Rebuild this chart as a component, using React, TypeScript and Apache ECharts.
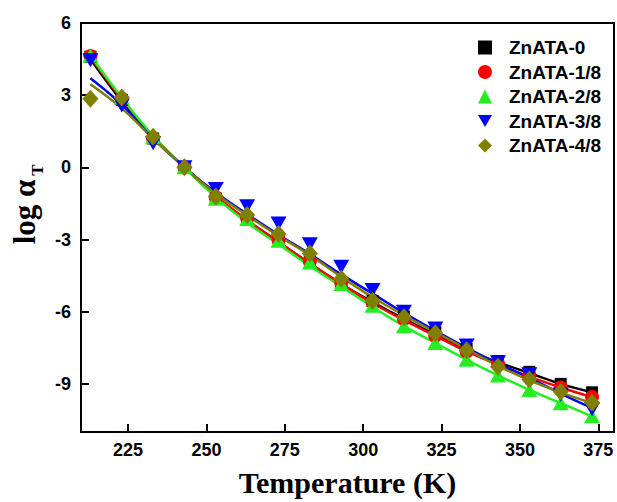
import React, { useEffect, useRef } from 'react';
import * as echarts from 'echarts';

// Temperatures (K)
const temps = [213, 223, 233, 243, 253, 263, 273, 283, 293, 303, 313, 323, 333, 343, 353, 363, 373];

const seriesNames = ['ZnATA-0', 'ZnATA-1/8', 'ZnATA-2/8', 'ZnATA-3/8', 'ZnATA-4/8'];

// Measured log aT (markers)
const data0 = [4.6, 2.8, 1.2, 0, -1.3, -2.15, -2.95, -3.85, -4.85, -5.55, -6.2, -6.85, -7.55, -8.05, -8.5, -9.0, -9.35];
const data1 = [4.63, 2.85, 1.2, 0, -1.25, -2.1, -3.0, -3.9, -4.8, -5.6, -6.3, -7.0, -7.65, -8.15, -8.65, -9.15, -9.55];
const data2 = [4.65, 2.9, 1.25, 0, -1.3, -2.15, -3.05, -3.95, -4.85, -5.75, -6.6, -7.3, -8.0, -8.65, -9.25, -9.8, -10.35];
const data3 = [4.45, 2.57, 1.0, 0, -0.9, -1.62, -2.33, -3.2, -4.13, -5.1, -6.0, -6.7, -7.4, -8.1, -8.6, -9.45, -10.05];
const data4 = [2.85, 2.9, 1.27, 0, -1.21, -1.98, -2.77, -3.58, -4.63, -5.54, -6.23, -6.9, -7.6, -8.29, -8.82, -9.33, -9.78];

// Fitted curves (lines)
const fit0 = [4.5, 2.75, 1.25, 0, -1.2, -2.2, -3.1, -4.0, -4.85, -5.6, -6.3, -6.95, -7.6, -8.1, -8.55, -9.0, -9.35];
const fit1 = [4.6, 2.85, 1.3, 0, -1.2, -2.2, -3.1, -4.0, -4.85, -5.65, -6.35, -7.0, -7.65, -8.2, -8.7, -9.15, -9.55];
const fit2 = [4.65, 2.9, 1.3, 0, -1.25, -2.3, -3.2, -4.1, -4.95, -5.8, -6.6, -7.3, -8.0, -8.65, -9.25, -9.8, -10.35];
const fit3 = [3.7, 2.6, 1.2, 0, -1.05, -1.95, -2.8, -3.6, -4.45, -5.25, -6.05, -6.8, -7.5, -8.15, -8.75, -9.4, -10.0];
const fit4 = [3.45, 2.45, 1.2, 0, -1.1, -2.0, -2.85, -3.65, -4.55, -5.4, -6.15, -6.85, -7.55, -8.25, -8.85, -9.35, -9.8];

const xTicks = [225, 250, 275, 300, 325, 350, 375];
const yTicks = [-9, -6, -3, 0, 3, 6];

const allData = [data0, data1, data2, data3, data4];
const allFits = [fit0, fit1, fit2, fit3, fit4];

const colors = ['#000000', '#ff0000', '#22ee22', '#0000ff', '#808000'];
const downTri = 'path://M0,0L20,0L10,17Z';
const symbols = ['rect', 'circle', 'triangle', downTri, 'diamond'];
const symbolSizes: any[] = [12, 14, [16, 14], [16, 14], [16, 18]];

const sansFont = '"Liberation Sans", Arial, sans-serif';
const serifFont = '"Liberation Serif", "Times New Roman", serif';

export default function App() {
  const ref = useRef<HTMLDivElement>(null);

  useEffect(() => {
    if (!ref.current) return;
    const chart = echarts.init(ref.current, null, { renderer: 'svg' });

    const lineSeries = allFits.map((fit, i) => ({
      name: 'fit ' + seriesNames[i],
      type: 'line',
      data: temps.map((t, j) => [t, fit[j]]),
      smooth: 0.4,
      showSymbol: false,
      symbol: 'none',
      lineStyle: { color: colors[i], width: 2.5 },
      itemStyle: { color: colors[i] },
      z: 2,
      silent: true,
    }));

    const scatterSeries = allData.map((d, i) => ({
      name: seriesNames[i],
      type: 'scatter',
      data: temps.map((t, j) => [t, d[j]]),
      symbol: symbols[i],
      symbolSize: symbolSizes[i],
      itemStyle: { color: colors[i], opacity: 1 },
      z: 3,
    }));

    chart.setOption({
      animation: false,
      backgroundColor: '#ffffff',
      grid: {
        left: 81,
        right: 3,
        top: 23,
        bottom: 66,
        show: true,
        borderColor: '#000',
        borderWidth: 2,
        backgroundColor: 'transparent',
      },
      legend: {
        orient: 'vertical',
        left: 473,
        top: 33,
        itemWidth: 14,
        itemHeight: 14,
        itemGap: 5.5,
        selectedMode: false,
        textStyle: {
          fontFamily: sansFont,
          fontWeight: 'bold',
          fontSize: 19,
          lineHeight: 18,
          color: '#000',
          padding: [0, 0, 0, 12],
        },
        data: seriesNames.map((n, i) => ({
          name: n,
          icon: i === 0 ? 'rect' : symbols[i],
          itemStyle: { color: colors[i] },
        })),
      },
      xAxis: {
        type: 'value',
        min: 210,
        max: 380,
        name: 'Temperature (K)',
        nameLocation: 'middle',
        nameGap: 35,
        nameTextStyle: {
          fontFamily: serifFont,
          fontWeight: 'bold',
          fontSize: 30,
          color: '#000',
        },
        axisLine: { show: true, onZero: false, lineStyle: { color: '#000', width: 2 } },
        axisTick: {
          show: true,
          inside: true,
          length: 8,
          lineStyle: { color: '#000', width: 2 },
          customValues: xTicks,
        },
        axisLabel: {
          customValues: xTicks,
          margin: 9,
          fontFamily: sansFont,
          fontWeight: 'bold',
          fontSize: 18,
          color: '#000',
        },
        splitLine: { show: false },
      },
      yAxis: {
        type: 'value',
        min: -11,
        max: 6,
        axisLine: { show: true, onZero: false, lineStyle: { color: '#000', width: 2 } },
        axisTick: {
          show: true,
          inside: true,
          length: 8,
          lineStyle: { color: '#000', width: 2 },
          customValues: yTicks,
        },
        axisLabel: {
          customValues: yTicks,
          margin: 10,
          fontFamily: sansFont,
          fontWeight: 'bold',
          fontSize: 18,
          color: '#000',
        },
        splitLine: { show: false },
      },
      graphic: [
        {
          type: 'text',
          x: 24,
          y: 212,
          rotation: Math.PI / 2,
          style: {
            text: 'log α',
            fontFamily: serifFont,
            fontWeight: 'bold',
            fontSize: 31,
            fill: '#000',
            align: 'center',
            verticalAlign: 'middle',
          },
        },
        {
          type: 'text',
          x: 37,
          y: 170,
          rotation: Math.PI / 2,
          style: {
            text: 'T',
            fontFamily: serifFont,
            fontWeight: 'bold',
            fontSize: 17,
            fill: '#000',
            align: 'center',
            verticalAlign: 'middle',
          },
        },
      ],
      series: [...lineSeries, ...scatterSeries],
    });

    return () => {
      chart.dispose();
    };
  }, []);

  return (
    <div
      ref={ref}
      style={{ position: 'fixed', left: 0, top: 0, width: 617, height: 502 }}
    />
  );
}
